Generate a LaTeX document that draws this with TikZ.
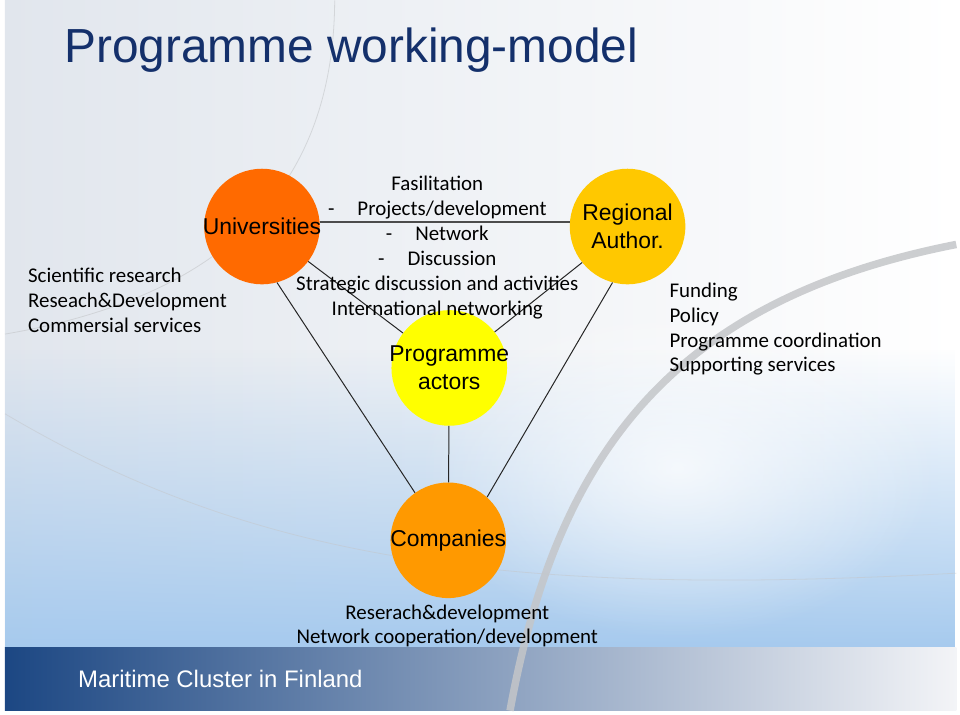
\documentclass[tikz,border=0pt]{standalone}
\usepackage{fontspec}
\setmainfont{Carlito}
\newfontfamily\arialfont{Liberation Sans}
\usetikzlibrary{fadings}
\definecolor{titleblue}{HTML}{14306B}
\definecolor{unicol}{HTML}{FF6A00}
\definecolor{regcol}{HTML}{FFC800}
\definecolor{progcol}{HTML}{FFFF00}
\definecolor{compcol}{HTML}{FF9900}
\definecolor{bgleft}{HTML}{E1E6ED}
\definecolor{bgblue}{HTML}{A6CAEE}
\definecolor{barleft}{HTML}{1C4783}
\definecolor{barright}{HTML}{F3F4F7}
\definecolor{swirl}{HTML}{C4C6C9}
\tikzfading[name=fade up, top color=transparent!100, bottom color=transparent!0]
\tikzfading[name=soft blob, inner color=transparent!0, outer color=transparent!100]

\begin{document}
\begin{tikzpicture}[x=1pt, y=-1pt,
    font=\fontsize{21}{25}\selectfont,
    actor/.style={circle, fill=#1, minimum size=116pt, inner sep=0pt},
    inlbl/.style={align=center, font=\arialfont\fontsize{23}{28.5}\selectfont},
    note/.style={inner sep=0pt},
    link/.style={line width=1pt, black!85}]

  % slide backdrop
  \fill[white] (0,0) rectangle (960,716);
  \shade[left color=bgleft, right color=white] (5,0) rectangle (960,650);
  \fill[bgblue, path fading=fade up] (5,350) rectangle (960,650);
  \fill[white, opacity=0.75, path fading=soft blob] (680,470) ellipse (260 and 170);
  \draw[swirl, line width=0.8pt, opacity=0.6] (336,0) .. controls (335,200) and (210,300) .. (5,335);
  \draw[swirl, line width=0.8pt, opacity=0.5] (5,415) .. controls (250,560) and (500,600) .. (960,575);
  \shade[left color=barleft, right color=barright] (5,650) rectangle (960,713);
  \draw[swirl, opacity=0.85, line width=7.5pt] (512,713) .. controls (560,450) and (680,300) .. (960,245);

  \node[anchor=base west, text=titleblue, font=\arialfont\fontsize{48}{50}\selectfont]
    (title) at (61,62) {Programme working-model};
  \node[anchor=base west, text=white, font=\arialfont\fontsize{24}{28}\selectfont]
    (footer) at (75,690) {Maritime Cluster in Finland};

  \node[actor=unicol, label={[inlbl]center:Universities}] (univ) at (263,227) {};
  \node[actor=regcol, label={[inlbl]center:Regional\\Author.}] (reg) at (630,227) {};
  \node[actor=progcol, label={[inlbl]center:Programme\\actors}] (prog) at (451,369) {};
  \node[actor=compcol, label={[inlbl]center:Companies}] (comp) at (450,542) {};

  \draw[line width=2pt, black!70] (univ.4) -- (reg.176);
  \draw[link] (univ) -- (prog);
  \draw[link] (reg) -- (prog);
  \draw[link] (prog) -- (comp);
  \draw[link] (univ.-75) -- (comp.125);
  \draw[link] (reg.-105) -- (comp.48);

  \node[note, align=center] (roles) at (439,248)
    {Fasilitation\\
     -\hspace{1.1em}Projects/development\\
     -\hspace{1.1em}Network\\
     -\hspace{1.1em}Discussion\\
     Strategic discussion and activities\\
     International networking};
  \node[note, align=left, anchor=west] (unitasks) at (28,301)
    {Scientific research\\ Reseach\&Development\\ Commersial services};
  \node[note, align=left, anchor=west] (regtasks) at (672,330)
    {Funding\\ Policy\\ Programme coordination\\ Supporting services};
  \node[note, align=center] (comptasks) at (449,628)
    {Reserach\&development\\ Network cooperation/development};
\end{tikzpicture}
\end{document}
